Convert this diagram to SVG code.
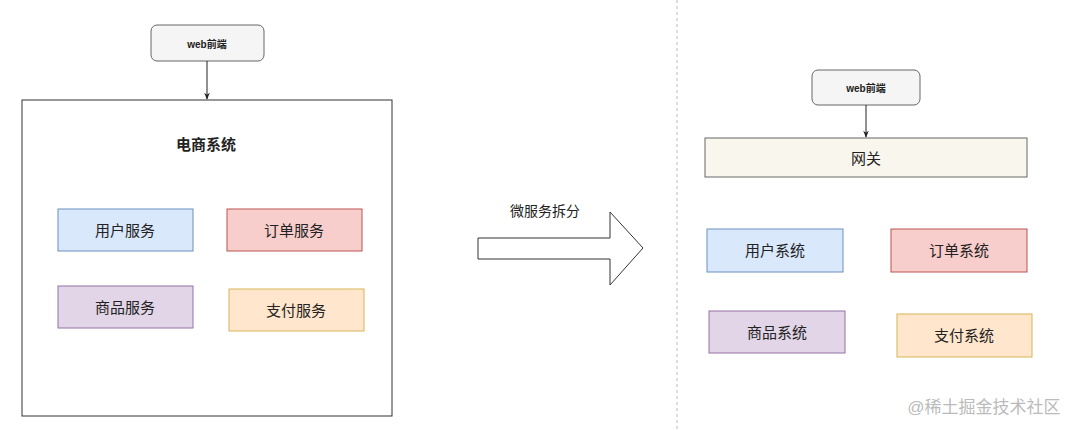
<svg xmlns="http://www.w3.org/2000/svg" width="1080" height="431" viewBox="0 0 1080 431">
<style>
text{font-family:"Liberation Sans","Noto Sans CJK SC",sans-serif;text-anchor:middle;dominant-baseline:central;fill:#222}
.web{fill:#f5f5f5;stroke:#666;stroke-width:1}
.svc{font-size:15px}
.line{stroke:#222;stroke-width:1;fill:none}
</style>
<defs><marker id="ah" viewBox="0 0 10 10" refX="9" refY="5" markerWidth="7" markerHeight="7" orient="auto"><path d="M0,1 L10,5 L0,9 L3,5 Z" fill="#222"/></marker></defs>
<rect width="1080" height="431" fill="#fff"/>
<line x1="677" y1="0" x2="677" y2="431" stroke="#bbb" stroke-dasharray="3,3"/>
<g id="web1"><rect class="web" x="151" y="25" width="113" height="36" rx="6"/><text x="207" y="44" font-size="10" font-weight="bold">web前端</text></g>
<g id="sys"><rect x="22" y="100" width="370" height="316" fill="#fff" stroke="#333"/><text x="206" y="144" font-size="15" font-weight="bold">电商系统</text></g>
<g id="s1"><rect x="58" y="209" width="135" height="42" fill="#dae8fc" stroke="#6c8ebf"/><text class="svc" x="125" y="230">用户服务</text></g>
<g id="s2"><rect x="227" y="209" width="135" height="42" fill="#f8cecc" stroke="#b85450"/><text class="svc" x="294" y="230">订单服务</text></g>
<g id="s3"><rect x="58" y="286" width="135" height="42" fill="#e1d5e7" stroke="#9673a6"/><text class="svc" x="125" y="307">商品服务</text></g>
<g id="s4"><rect x="229" y="289" width="135" height="42" fill="#ffe6cc" stroke="#d6b656"/><text class="svc" x="296" y="310">支付服务</text></g>
<g id="split"><path d="M478,238 L610,238 L610,212 L643,248 L610,285 L610,259 L478,259 Z" fill="#fff" stroke="#333"/><text x="545" y="211" font-size="14">微服务拆分</text></g>
<g id="web2"><rect class="web" x="812" y="70" width="108" height="35" rx="6"/><text x="866" y="88" font-size="10" font-weight="bold">web前端</text></g>
<g id="gw"><rect x="705" y="138" width="322" height="39" fill="#f9f7ed" stroke="#666"/><text class="svc" x="866" y="158">网关</text></g>
<g id="r1"><rect x="707" y="229" width="136" height="43" fill="#dae8fc" stroke="#6c8ebf"/><text class="svc" x="775" y="250">用户系统</text></g>
<g id="r2"><rect x="891" y="229" width="136" height="43" fill="#f8cecc" stroke="#b85450"/><text class="svc" x="959" y="250">订单系统</text></g>
<g id="r3"><rect x="709" y="311" width="136" height="42" fill="#e1d5e7" stroke="#9673a6"/><text class="svc" x="777" y="332">商品系统</text></g>
<g id="r4"><rect x="897" y="314" width="135" height="43" fill="#ffe6cc" stroke="#d6b656"/><text class="svc" x="964" y="335">支付系统</text></g>
<g id="connectors"><line class="line" x1="207" y1="61" x2="207" y2="99" marker-end="url(#ah)"/><line class="line" x1="866" y1="105" x2="866" y2="137" marker-end="url(#ah)"/></g>
<text x="984" y="407" font-size="17" style="fill:#bbb">@稀土掘金技术社区</text>
</svg>
